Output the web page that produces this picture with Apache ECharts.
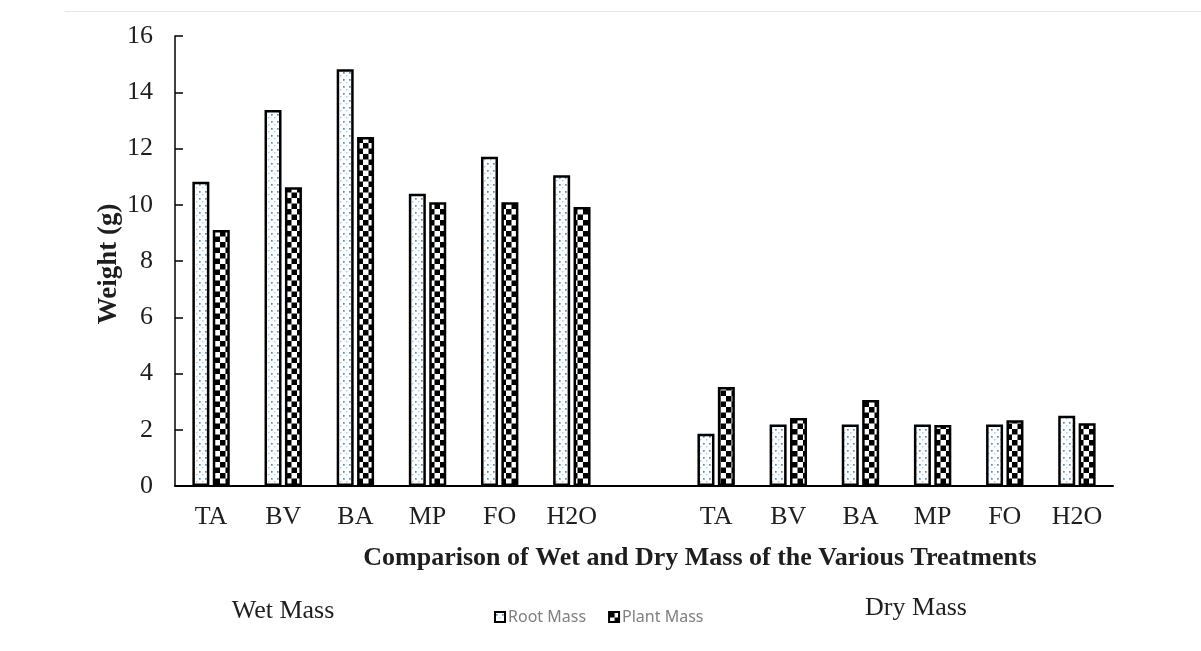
<!DOCTYPE html>
<html>
<head>
<meta charset="utf-8">
<script src="https://cdn.jsdelivr.net/npm/echarts@6/dist/echarts.min.js"></script>
<style>
  html, body { margin: 0; padding: 0; background: #fff; }
  #chart { width: 1201px; height: 651px; }
</style>
</head>
<body>
<div id="chart"></div>
<script>
// Treatments, wet group then dry group (blank slot between them)
const categories = ['TA', 'BV', 'BA', 'MP', 'FO', 'H2O', '', 'TA', 'BV', 'BA', 'MP', 'FO', 'H2O'];
const rootMass  = [10.82, 13.37, 14.82, 10.39, 11.71, 11.05, null, 1.86, 2.19, 2.19, 2.19, 2.19, 2.50];
const plantMass = [9.10, 10.62, 12.41, 10.09, 10.09, 9.92, null, 3.52, 2.42, 3.06, 2.17, 2.34, 2.23];
const yTicks = { min: 0, max: 16, step: 2 };

const serif = '"Liberation Serif", "Times New Roman", serif';
const textColor = '#1e1e1e';

// dotted fill for root mass
function dotPattern() {
    const c = document.createElement('canvas');
    c.width = 6; c.height = 7;
    const ctx = c.getContext('2d');
    ctx.fillStyle = '#fff';
    ctx.fillRect(0, 0, 6, 7);
    ctx.fillStyle = 'rgba(60,125,175,0.85)';
    ctx.fillRect(1, 2, 1.7, 1.7);
    ctx.fillStyle = 'rgba(110,165,200,0.6)';
    ctx.fillRect(4, 5, 1.4, 1.4);
    return c;
}

// checkerboard fill for plant mass
function checkerPattern() {
    const c = document.createElement('canvas');
    c.width = 11; c.height = 11;
    const ctx = c.getContext('2d');
    ctx.fillStyle = '#fff';
    ctx.fillRect(0, 0, 11, 11);
    ctx.fillStyle = '#000';
    ctx.fillRect(0, 0, 5.5, 5.5);
    ctx.fillRect(5.5, 5.5, 5.5, 5.5);
    return c;
}

const chart = echarts.init(document.getElementById('chart'));

chart.setOption({
    backgroundColor: '#fff',
    animation: false,
    grid: { left: 175, right: 88, top: 36, bottom: 165, containLabel: false },
    title: [
        {
            text: 'Comparison of Wet and Dry Mass of the Various Treatments',
            left: 695, top: 540, textAlign: 'center',
            textStyle: { fontFamily: serif, fontWeight: 'bold', fontSize: 26, color: textColor }
        },
        {
            text: 'Wet Mass', left: 278, top: 593, textAlign: 'center',
            textStyle: { fontFamily: serif, fontWeight: 'normal', fontSize: 26, color: textColor }
        },
        {
            text: 'Dry Mass', left: 911, top: 590, textAlign: 'center',
            textStyle: { fontFamily: serif, fontWeight: 'normal', fontSize: 26, color: textColor }
        }
    ],
    legend: {
        data: ['Root Mass', 'Plant Mass'],
        left: 489, top: 604,
        icon: 'rect',
        itemWidth: 10, itemHeight: 10, itemGap: 22,
        textStyle: { fontFamily: '"Noto Sans", sans-serif', fontSize: 16, color: '#808080', padding: [0, 0, 0, -2] }
    },
    xAxis: {
        type: 'category',
        data: categories,
        axisLine: { lineStyle: { color: '#000', width: 2 } },
        axisTick: { show: false },
        axisLabel: { fontFamily: serif, fontSize: 26, color: textColor, margin: 18, interval: 0 },
        splitLine: { show: false }
    },
    yAxis: {
        type: 'value',
        min: yTicks.min, max: yTicks.max, interval: yTicks.step,
        axisLine: { show: true, lineStyle: { color: '#000', width: 1.5 } },
        axisTick: { show: true, inside: true, length: 8, lineStyle: { color: '#000', width: 1.5 } },
        axisLabel: { fontFamily: serif, fontSize: 26, color: textColor, margin: 22 },
        splitLine: { show: false }
    },
    series: [
        {
            name: 'Root Mass',
            type: 'bar',
            data: rootMass,
            barWidth: 17,
            barGap: '20%',
            itemStyle: {
                color: { image: dotPattern(), repeat: 'repeat' },
                borderColor: '#000',
                borderWidth: 2.5
            }
        },
        {
            name: 'Plant Mass',
            type: 'bar',
            data: plantMass,
            barWidth: 17,
            itemStyle: {
                color: { image: checkerPattern(), repeat: 'repeat' },
                borderColor: '#000',
                borderWidth: 2.5
            }
        }
    ],
    graphic: [
        {
            // faint frame line across the top of the picture
            type: 'line',
            shape: { x1: 65, y1: 11.5, x2: 1201, y2: 11.5 },
            style: { stroke: '#e6e6e6', lineWidth: 1 }
        },
        {
            // y axis title
            type: 'text',
            x: 109, y: 264,
            rotation: Math.PI / 2,
            style: {
                text: 'Weight (g)',
                font: 'bold 27px ' + serif,
                fill: textColor,
                align: 'center',
                verticalAlign: 'middle'
            }
        }
    ]
});
</script>
</body>
</html>
